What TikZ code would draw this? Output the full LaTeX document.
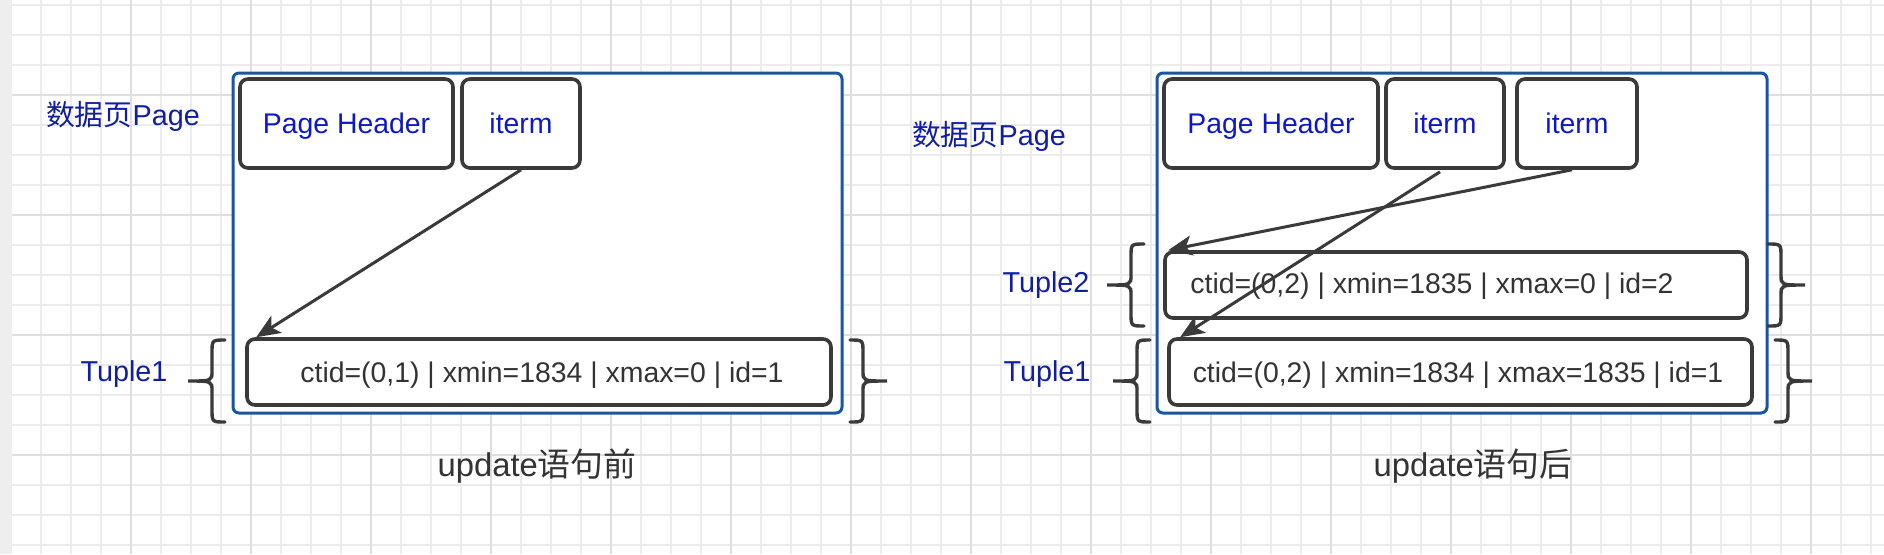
\documentclass[tikz,border=0pt]{standalone}
\usepackage{fontspec}
\setmainfont{Liberation Sans}
\newfontfamily\cjk{Noto Sans CJK SC}
\usetikzlibrary{arrows.meta,calc}
\definecolor{pageblue}{RGB}{24,86,160}
\definecolor{boxgray}{RGB}{58,58,58}
\definecolor{inblue}{RGB}{14,24,200}
\definecolor{lblblue}{RGB}{18,30,160}
\definecolor{txtgray}{RGB}{51,51,51}
\definecolor{gridminor}{RGB}{236,236,236}
\definecolor{gridmajor}{RGB}{222,222,222}
\definecolor{stripgray}{RGB}{238,238,238}
\begin{document}
\begin{tikzpicture}[x=0.5pt,y=-0.5pt,
 pagebox/.style={draw=pageblue, line width=1.5pt, rounded corners=3pt, fill=white, inner sep=0pt},
 cellbox/.style={draw=boxgray, line width=1.8pt, rounded corners=4pt, fill=white, inner sep=0pt},
 celltext/.style={text=inblue, font=\fontsize{14.2pt}{17pt}\selectfont, text height=13pt, text depth=3pt},
 tupletext/.style={text=txtgray, font=\fontsize{14.2pt}{17pt}\selectfont, inner sep=0pt},
 sidelabel/.style={text=lblblue, font=\fontsize{14.4pt}{17pt}\selectfont, inner sep=0pt},
 pcaption/.style={text=txtgray, font=\fontsize{16.4pt}{20pt}\selectfont, inner sep=0pt},
 linkarrow/.style={draw=boxgray, line width=1.5pt, -{Stealth[length=12pt,width=10pt,inset=3pt]}},
 bracestyle/.style={draw=boxgray, line width=1.7pt, line cap=round},
 lbrace/.pic={\draw[bracestyle] (37,-41) .. controls (24,-41) .. (24,-28) -- (24,-10) .. controls (24,0) .. (0,0) .. controls (24,0) .. (24,10) -- (24,28) .. controls (24,41) .. (37,41);},
 rbrace/.pic={\draw[bracestyle] (-37,-41) .. controls (-24,-41) .. (-24,-28) -- (-24,-10) .. controls (-24,0) .. (0,0) .. controls (-24,0) .. (-24,10) -- (-24,28) .. controls (-24,41) .. (-37,41);},
]
\useasboundingbox (0,0) rectangle (1884,554);
% background grid
\fill[white] (0,0) rectangle (1884,554);
\fill[stripgray] (0,0) rectangle (12,554);
\foreach \x in {41,71,...,1884} \draw[gridminor, line width=0.9pt] (\x,0) -- (\x,554);
\foreach \y in {5,35,...,554} \draw[gridminor, line width=0.9pt] (12,\y) -- (1884,\y);
\foreach \x in {131,251,...,1884} \draw[gridmajor, line width=0.9pt] (\x,0) -- (\x,554);
\foreach \y in {95,215,335,455} \draw[gridmajor, line width=0.9pt] (12,\y) -- (1884,\y);

% ---------------- left page (before update) ----------------
\node[pagebox, minimum width=304.5pt, minimum height=170pt] (pageL) at (537.5,243) {};
\node[cellbox, celltext, minimum width=106.5pt, minimum height=44.5pt] (phL) at (346.5,123.5) {Page Header};
\node[cellbox, celltext, minimum width=59pt, minimum height=44.5pt] (itL) at (521,123.5) {iterm};
\node[cellbox, minimum width=292pt, minimum height=33pt] (t1L) at (539,372) {};
\node[tupletext] (t1Ltxt) at (542,375) {ctid=(0,1) | xmin=1834 | xmax=0 | id=1};
\node[sidelabel] (pgLblL) at (123,116) {{\cjk 数据页}Page};
\node[sidelabel] (tup1LblL) at (124,374) {Tuple1};
\pic at (188,381) {lbrace};
\pic at (887,381) {rbrace};
\node[pcaption] (capL) at (537,466) {update{\cjk 语句前}};
\draw[linkarrow] (itL.south) -- ($(t1L.north west)+(11,0)$);

% ---------------- right page (after update) ----------------
\node[pagebox, minimum width=305pt, minimum height=170pt] (pageR) at (1462,243) {};
\node[cellbox, celltext, minimum width=107pt, minimum height=44.5pt] (phR) at (1271,123.5) {Page Header};
\node[cellbox, celltext, minimum width=59pt, minimum height=44.5pt] (it1R) at (1445,123.5) {iterm};
\node[cellbox, celltext, minimum width=60pt, minimum height=44.5pt] (it2R) at (1577,123.5) {iterm};
\node[cellbox, minimum width=291pt, minimum height=33pt] (t2R) at (1456,285) {};
\node[tupletext] (t2Rtxt) at (1432,286) {ctid=(0,2) | xmin=1835 | xmax=0 | id=2};
\node[cellbox, minimum width=291.5pt, minimum height=33pt] (t1R) at (1460.5,372) {};
\node[tupletext] (t1Rtxt) at (1458,375) {ctid=(0,2) | xmin=1834 | xmax=1835 | id=1};
\node[sidelabel] (pgLblR) at (989,136) {{\cjk 数据页}Page};
\node[sidelabel] (tup2LblR) at (1046,285) {Tuple2};
\node[sidelabel] (tup1LblR) at (1047,374) {Tuple1};
\pic at (1107,285) {lbrace};
\pic at (1113,381) {lbrace};
\pic at (1805,285) {rbrace};
\pic at (1812,381) {rbrace};
\node[pcaption] (capR) at (1473,466) {update{\cjk 语句后}};
\draw[linkarrow] ($(it2R.south)+(-5,0)$) -- ($(t2R.north west)+(5,0)$);
\draw[linkarrow] ($(it1R.south)+(-5,2)$) -- ($(t1R.north west)+(13,0)$);
\end{tikzpicture}
\end{document}
